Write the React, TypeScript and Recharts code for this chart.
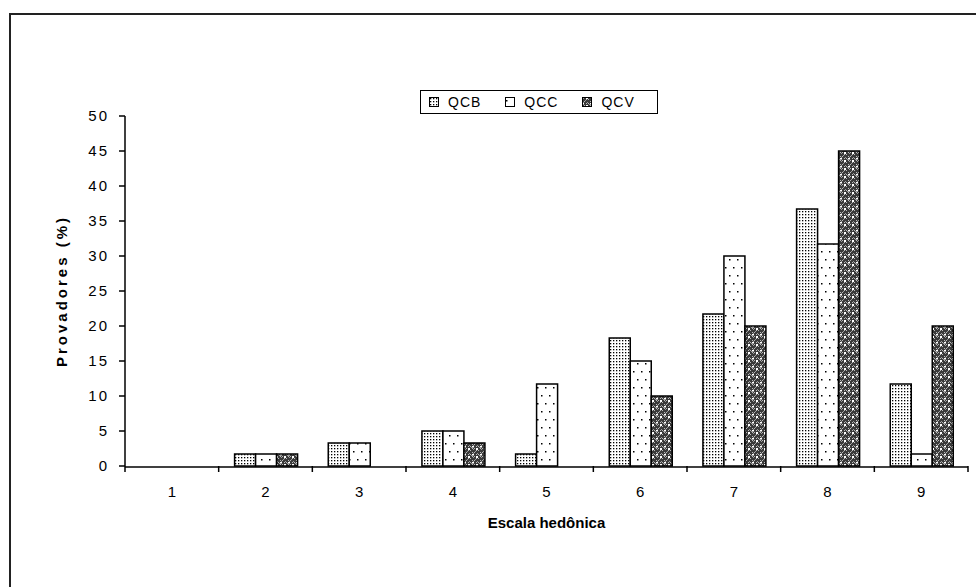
import React from 'react'
import { BarChart, Bar, XAxis, YAxis, Legend } from 'recharts'

const categories = ['1', '2', '3', '4', '5', '6', '7', '8', '9']
const qcb = [0, 1.7, 3.3, 5, 1.7, 18.3, 21.7, 36.7, 11.7]
const qcc = [0, 1.7, 3.3, 5, 11.7, 15, 30, 31.7, 1.7]
const qcv = [0, 1.7, 0, 3.3, 0, 10, 20, 45, 20]
const yTicks = [0, 5, 10, 15, 20, 25, 30, 35, 40, 45, 50]
const boundaryTicks = [0.5, 1.5, 2.5, 3.5, 4.5, 5.5, 6.5, 7.5, 8.5, 9.5]

const data = categories.map((c, i) => ({ cat: c, QCB: qcb[i], QCC: qcc[i], QCV: qcv[i] }))

const series = [
  { key: 'QCB', fill: 'url(#patQCB)' },
  { key: 'QCC', fill: 'url(#patQCC)' },
  { key: 'QCV', fill: 'url(#patQCV)' },
]

const font = 'Arial, "Liberation Sans", sans-serif'

function LegendBox() {
  return (
    <div
      style={{
        display: 'flex',
        alignItems: 'center',
        boxSizing: 'border-box',
        width: 238,
        height: 24,
        border: '1.5px solid #000',
        background: '#fff',
        padding: '0 0 0 8px',
        fontFamily: font,
        fontSize: 14,
        letterSpacing: 1,
        color: '#000',
      }}
    >
      {series.map((s) => (
        <span key={s.key} style={{ display: 'inline-flex', alignItems: 'center' }}>
          <svg width={10} height={10} style={{ marginRight: 9 }}>
            <rect x={0.5} y={0.5} width={9} height={9} fill={s.fill} stroke="#000" strokeWidth={1} />
          </svg>
          <span style={{ marginRight: 24 }}>{s.key}</span>
        </span>
      ))}
    </div>
  )
}

function EdgeTick() {
  return <g />
}

export default function App() {
  return (
    <div style={{ position: 'absolute', left: 0, top: 0, width: 976, height: 587, background: '#fff' }}>
      <div
        style={{
          position: 'absolute',
          left: 9,
          top: 13,
          width: 1000,
          height: 600,
          borderLeft: '2px solid #222',
          borderTop: '2px solid #222',
        }}
      />
      <div style={{ position: 'absolute', left: 0, top: 0 }}>
        <BarChart
          width={976}
          height={587}
          data={data}
          margin={{ top: 116, right: 8, bottom: 90, left: 85 }}
          barCategoryGap="17%"
          barGap={0}
        >
          <defs>
            <pattern id="patQCB" width={3} height={3} patternUnits="userSpaceOnUse">
              <rect width={3} height={3} fill="#fff" />
              <rect x={1} y={1} width={1.3} height={1.3} fill="#000" />
            </pattern>
            <pattern id="patQCC" width={8} height={16} patternUnits="userSpaceOnUse">
              <rect width={8} height={16} fill="#fff" />
              <rect x={1} y={3} width={1.5} height={1.5} fill="#000" />
              <rect x={5} y={11} width={1.5} height={1.5} fill="#000" />
            </pattern>
            <pattern id="patQCV" width={8} height={8} patternUnits="userSpaceOnUse">
              <rect width={8} height={8} fill="#3a3a3a" />
              <rect x={0} y={0} width={1} height={1} fill="#bbb" />
              <rect x={2} y={0} width={1} height={1} fill="#bbb" />
              <rect x={4} y={2} width={1} height={1} fill="#bbb" />
              <rect x={6} y={2} width={1} height={1} fill="#bbb" />
              <rect x={0} y={4} width={1} height={1} fill="#bbb" />
              <rect x={2} y={4} width={1} height={1} fill="#bbb" />
              <rect x={4} y={6} width={1} height={1} fill="#bbb" />
              <rect x={6} y={6} width={1} height={1} fill="#bbb" />
              <rect x={1} y={1} width={1} height={1} fill="#999" />
              <rect x={5} y={5} width={1} height={1} fill="#999" />
              <rect x={3} y={3} width={1} height={1} fill="#999" />
              <rect x={7} y={7} width={1} height={1} fill="#999" />
              <rect x={5} y={1} width={1} height={1} fill="#999" />
              <rect x={1} y={5} width={1} height={1} fill="#999" />
              <rect x={4} y={0} width={2} height={2} fill="#fff" />
              <rect x={0} y={6} width={2} height={1.5} fill="#fff" />
            </pattern>
          </defs>
          <XAxis
            type="number"
            dataKey="edge"
            domain={[0.5, 9.5]}
            ticks={boundaryTicks}
            interval={0}
            tick={<EdgeTick />}
            height={1}
            allowDataOverflow
            axisLine={false}
            tickLine={{ stroke: '#000', strokeWidth: 1.5 }}
            tickSize={6}
          />
          <XAxis
            xAxisId="cat"
            dataKey="cat"
            height={30}
            tickLine={false}
            axisLine={{ stroke: '#000', strokeWidth: 1.5 }}
            tick={{ fill: '#000', fontSize: 15, fontFamily: font }}
            tickMargin={13}
            label={{
              value: 'Escala hedônica',
              position: 'insideBottom',
              offset: -31,
              fill: '#000',
              fontSize: 15,
              fontWeight: 'bold',
              fontFamily: font,
            }}
          />
          <YAxis
            width={40}
            domain={[0, 50]}
            ticks={yTicks}
            interval={0}
            tickSize={6}
            tickMargin={10}
            axisLine={{ stroke: '#000', strokeWidth: 1.5 }}
            tickLine={{ stroke: '#000', strokeWidth: 1.5 }}
            tick={{ fill: '#000', fontSize: 15, fontFamily: font, letterSpacing: 2 }}
            label={{
              value: 'Provadores (%)',
              angle: -90,
              position: 'insideLeft',
              offset: -23,
              style: { textAnchor: 'middle', letterSpacing: 3 },
              fill: '#000',
              fontSize: 15,
              fontWeight: 'bold',
              fontFamily: font,
            }}
          />
          <Legend
            layout="horizontal"
            verticalAlign="middle"
            align="center"
            content={<LegendBox />}
            wrapperStyle={{ position: 'absolute', left: 420, top: 90, width: 238, height: 24 }}
          />
          {series.map((s) => (
            <Bar
              key={s.key}
              xAxisId="cat"
              dataKey={s.key}
              fill={s.fill}
              stroke="#000"
              strokeWidth={1.5}
              isAnimationActive={false}
            />
          ))}
        </BarChart>
      </div>
    </div>
  )
}
